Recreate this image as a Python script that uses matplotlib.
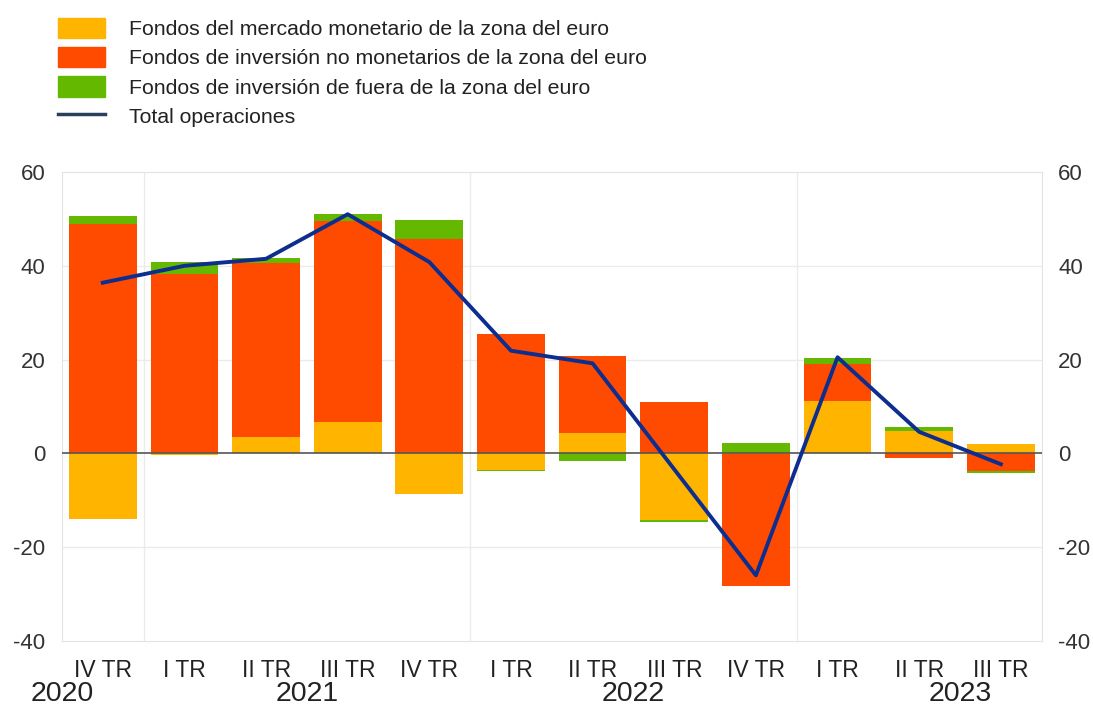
# flujos de fondos de inversión por trimestre
import matplotlib.pyplot as plt
import numpy as np
from matplotlib.patches import Patch
from matplotlib.lines import Line2D
from matplotlib.transforms import blended_transform_factory

plt.rcParams['font.family'] = ['Liberation Sans', 'DejaVu Sans']

quarters = ["IV TR", "I TR", "II TR", "III TR", "IV TR", "I TR",
            "II TR", "III TR", "IV TR", "I TR", "II TR", "III TR"]
years = ["2020", "2021", "2022", "2023"]
year_pos = [-0.5, 2.5, 6.5, 10.5]

# mercado monetario / no monetarios / fuera de la zona del euro
mmf = [-14.0, -0.4, 3.5, 6.7, -8.7, -3.5, 4.3, -14.3, -0.2, 11.2, 4.7, 1.9]
non_mmf = [49.0, 38.2, 37.1, 42.8, 45.8, 25.5, 16.4, 11.0, -28.0, 7.9, -0.9, -3.7]
non_ea = [1.7, 2.7, 1.1, 1.5, 3.9, -0.2, -1.6, -0.3, 2.2, 1.3, 0.9, -0.4]
total = [36.4, 40.0, 41.5, 51.0, 40.8, 21.9, 19.2, -3.4, -26.0, 20.5, 4.6, -2.3]

labels = ["Fondos del mercado monetario de la zona del euro",
          "Fondos de inversión no monetarios de la zona del euro",
          "Fondos de inversión de fuera de la zona del euro",
          "Total operaciones"]
colors = ["#FFB400", "#FF4B00", "#65B800"]
line_color = "#0D2D8F"

fig = plt.figure(figsize=(10.93, 7.05), dpi=100)
ax = fig.add_axes([0.0567, 0.0908, 0.8963, 0.6652])

x = np.arange(len(quarters))
pos = np.zeros(len(x))
neg = np.zeros(len(x))
for vals, c in zip([mmf, non_mmf, non_ea], colors):
    v = np.array(vals)
    bottom = np.where(v >= 0, pos, neg)
    ax.bar(x, v, width=0.83, bottom=bottom, color=c, zorder=2)
    pos = pos + np.where(v >= 0, v, 0)
    neg = neg + np.where(v < 0, v, 0)

ax.plot(x, total, color=line_color, lw=2.8, zorder=4)
ax.axhline(0, color="#555555", lw=1.2, zorder=3)

ax.set_xlim(-0.5, 11.5)
ax.set_ylim(-40, 60)
ax.set_yticks([-40, -20, 0, 20, 40, 60])
ax.set_yticklabels(["-40", "-20", "0", "20", "40", "60"])
ax.tick_params(axis="y", length=0, labelsize=16, labelright=True, pad=12,
               labelcolor="#333333")
ax.set_xticks(x)
ax.set_xticklabels(quarters)
ax.tick_params(axis="x", length=0, labelsize=16.5, pad=13, labelcolor="#222222")

for yv in [-20, 20, 40]:
    ax.axhline(yv, color="#EBEBEB", lw=1, zorder=1)
for xv in [0.5, 4.5, 8.5]:
    ax.axvline(xv, color="#EBEBEB", lw=1, zorder=1)
for s in ax.spines.values():
    s.set_color("#E3E3E3")

# años debajo de los trimestres
trans = blended_transform_factory(ax.transData, fig.transFigure)
for yr, xp in zip(years, year_pos):
    ax.text(xp, 4 / 705, yr, transform=trans, ha="center",
            va="baseline", fontsize=20.5, color="#222222")

handles = [Patch(color=c) for c in colors]
handles.append(Line2D([0], [0], color="#2B3F5C", lw=2.5))
fig.legend(handles, labels, loc="upper left", bbox_to_anchor=(0.053, 0.975),
           frameon=False, fontsize=15.3, handlelength=2.2, handleheight=1.1,
           labelspacing=0.37, handletextpad=1.15, borderaxespad=0, borderpad=0,
           labelcolor="#222222")

fig.savefig("out.png", dpi=100)
